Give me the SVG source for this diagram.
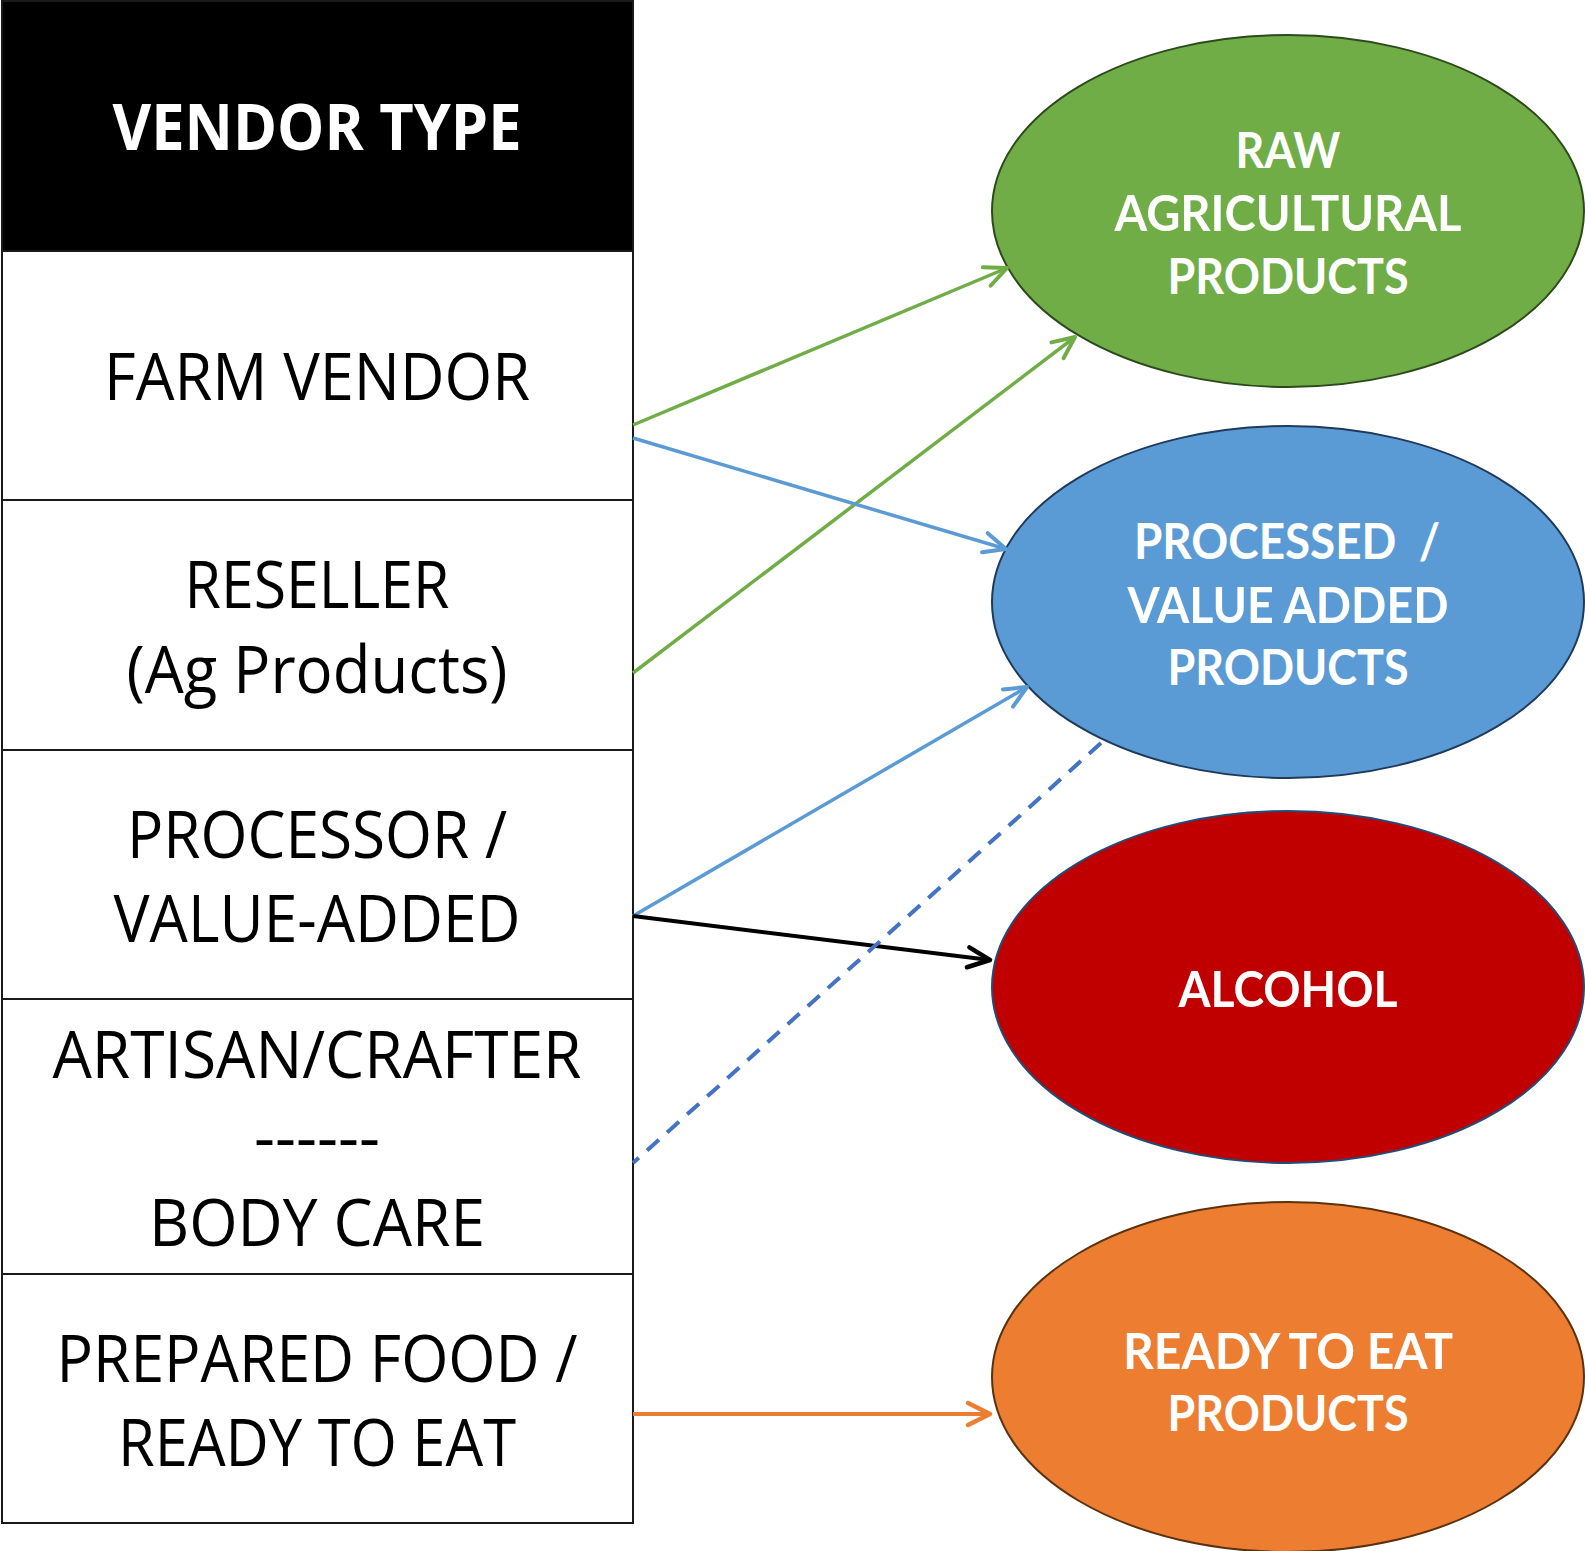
<svg xmlns="http://www.w3.org/2000/svg" width="1585" height="1551" viewBox="0 0 1585 1551">
<style>
.cell{fill:#fff;stroke:#1a1a1a;stroke-width:2}
.rt{font-family:"Open Sans","Liberation Sans",sans-serif;font-size:66px;fill:#000;text-anchor:middle}
.hd{font-family:"Open Sans","Liberation Sans",sans-serif;font-weight:bold;font-size:64px;fill:#fff;text-anchor:middle}
.et{font-family:Lato,"Open Sans",sans-serif;font-weight:bold;font-size:50px;fill:#fff;text-anchor:middle}
.ln{fill:none;stroke-width:3.5}
.lk{fill:none;stroke-width:4}
.ld{fill:none;stroke-width:4;stroke-dasharray:16,11}
</style>
<defs>
<marker id="aG" markerUnits="userSpaceOnUse" markerWidth="40" markerHeight="40" refX="0" refY="0" viewBox="-30 -20 40 40" orient="auto" overflow="visible"><path d="M-22,-10 L0,0 L-22,10" fill="none" stroke="#70AD47" stroke-width="4" stroke-linecap="round" stroke-linejoin="round"/></marker>
<marker id="aB" markerUnits="userSpaceOnUse" markerWidth="40" markerHeight="40" refX="0" refY="0" viewBox="-30 -20 40 40" orient="auto" overflow="visible"><path d="M-22,-10 L0,0 L-22,10" fill="none" stroke="#5B9BD5" stroke-width="4" stroke-linecap="round" stroke-linejoin="round"/></marker>
<marker id="aK" markerUnits="userSpaceOnUse" markerWidth="40" markerHeight="40" refX="0" refY="0" viewBox="-30 -20 40 40" orient="auto" overflow="visible"><path d="M-22,-10 L0,0 L-22,10" fill="none" stroke="#000" stroke-width="4.5" stroke-linecap="round" stroke-linejoin="round"/></marker>
<marker id="aO" markerUnits="userSpaceOnUse" markerWidth="40" markerHeight="40" refX="0" refY="0" viewBox="-30 -20 40 40" orient="auto" overflow="visible"><path d="M-22,-11 L0,0 L-22,11" fill="none" stroke="#ED7D31" stroke-width="4.5" stroke-linecap="round" stroke-linejoin="round"/></marker>
</defs>
<rect width="1585" height="1551" fill="#fff"/>

<g id="header">
<rect x="2" y="1" width="631" height="250" fill="#000" stroke="#1a1a1a" stroke-width="2"/>
<text class="hd" x="317" y="150" textLength="409" lengthAdjust="spacingAndGlyphs">VENDOR TYPE</text>
</g>
<g id="farm-vendor">
<rect class="cell" x="2" y="251" width="631" height="249"/>
<text class="rt" x="317" y="400" textLength="426" lengthAdjust="spacingAndGlyphs">FARM VENDOR</text>
</g>
<g id="reseller">
<rect class="cell" x="2" y="500" width="631" height="250"/>
<text class="rt" x="317" y="608" textLength="265" lengthAdjust="spacingAndGlyphs">RESELLER</text>
<text class="rt" x="317" y="693" textLength="381" lengthAdjust="spacingAndGlyphs">(Ag Products)</text>
</g>
<g id="processor">
<rect class="cell" x="2" y="750" width="631" height="249"/>
<text class="rt" x="317" y="858" textLength="380" lengthAdjust="spacingAndGlyphs">PROCESSOR /</text>
<text class="rt" x="317" y="942" textLength="407" lengthAdjust="spacingAndGlyphs">VALUE-ADDED</text>
</g>
<g id="artisan">
<rect class="cell" x="2" y="999" width="631" height="275"/>
<text class="rt" x="317" y="1078" textLength="529" lengthAdjust="spacingAndGlyphs">ARTISAN/CRAFTER</text>
<text class="rt" x="317" y="1160" textLength="126" lengthAdjust="spacingAndGlyphs">------</text>
<text class="rt" x="317" y="1246" textLength="336" lengthAdjust="spacingAndGlyphs">BODY CARE</text>
</g>
<g id="prepared-food">
<rect class="cell" x="2" y="1274" width="631" height="249"/>
<text class="rt" x="317" y="1382" textLength="521" lengthAdjust="spacingAndGlyphs">PREPARED FOOD /</text>
<text class="rt" x="317" y="1466" textLength="398" lengthAdjust="spacingAndGlyphs">READY TO EAT</text>
</g>

<g id="raw-agricultural">
<ellipse cx="1288" cy="211" rx="296" ry="176" fill="#70AD47" stroke="#2E4A1C" stroke-width="2"/>
<text class="et" x="1288" y="168" textLength="105" lengthAdjust="spacingAndGlyphs">RAW</text>
<text class="et" x="1288" y="231" textLength="347" lengthAdjust="spacingAndGlyphs">AGRICULTURAL</text>
<text class="et" x="1288" y="294" textLength="241" lengthAdjust="spacingAndGlyphs">PRODUCTS</text>
</g>
<g id="processed">
<ellipse cx="1288" cy="602" rx="296" ry="176" fill="#5B9BD5" stroke="#1F3A5A" stroke-width="2"/>
<text class="et" x="1287" y="559" textLength="306" lengthAdjust="spacingAndGlyphs" xml:space="preserve">PROCESSED  /</text>
<text class="et" x="1288" y="623" textLength="321" lengthAdjust="spacingAndGlyphs">VALUE ADDED</text>
<text class="et" x="1288" y="685" textLength="241" lengthAdjust="spacingAndGlyphs">PRODUCTS</text>
</g>
<g id="alcohol">
<ellipse cx="1288" cy="987" rx="296" ry="176" fill="#C00000" stroke="#1F4E79" stroke-width="2"/>
<text class="et" x="1288" y="1007" textLength="219" lengthAdjust="spacingAndGlyphs">ALCOHOL</text>
</g>
<g id="ready-to-eat">
<ellipse cx="1288" cy="1377" rx="296" ry="175" fill="#ED7D31" stroke="#5A3210" stroke-width="2"/>
<text class="et" x="1288" y="1369" textLength="330" lengthAdjust="spacingAndGlyphs">READY TO EAT</text>
<text class="et" x="1288" y="1431" textLength="241" lengthAdjust="spacingAndGlyphs">PRODUCTS</text>
</g>

<g id="connectors">
<line class="ln" x1="633" y1="425" x2="1007" y2="268" stroke="#70AD47" marker-end="url(#aG)"/>
<line class="ln" x1="633" y1="673" x2="1075" y2="337" stroke="#70AD47" marker-end="url(#aG)"/>
<line class="ln" x1="633" y1="438" x2="1006" y2="549" stroke="#5B9BD5" marker-end="url(#aB)"/>
<line class="ln" x1="633" y1="916" x2="1027" y2="687" stroke="#5B9BD5" marker-end="url(#aB)"/>
<line class="lk" x1="633" y1="916" x2="990" y2="960" stroke="#000" marker-end="url(#aK)"/>
<line class="ld" x1="1101" y1="743" x2="633" y2="1163" stroke="#4472C4"/>
<line class="lk" x1="633" y1="1414" x2="990" y2="1414" stroke="#ED7D31" marker-end="url(#aO)"/>
</g>
</svg>
